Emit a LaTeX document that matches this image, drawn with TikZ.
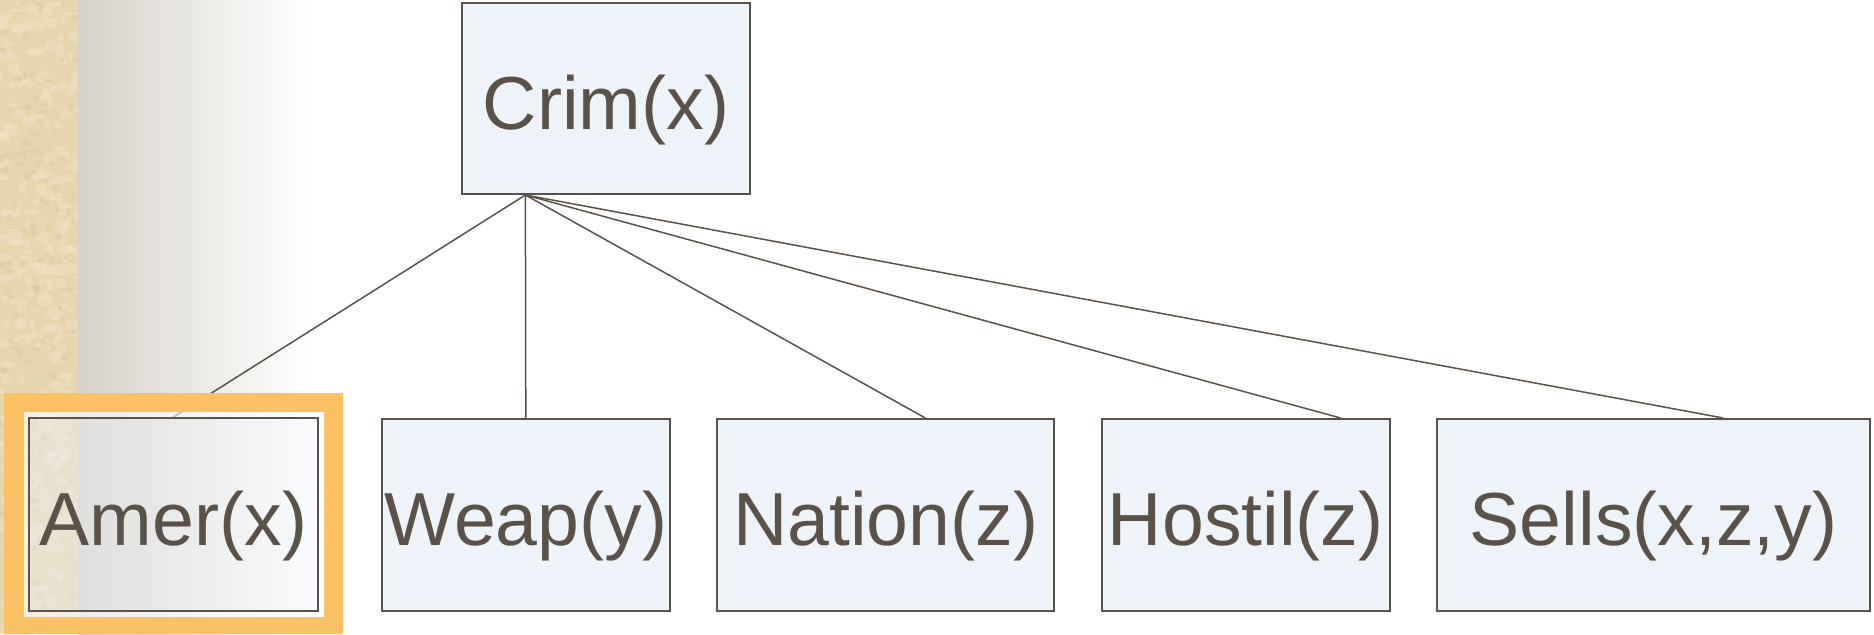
\documentclass[tikz,border=0pt]{standalone}
\usepackage{fontspec}
\setmainfont{Liberation Sans}
\usetikzlibrary{calc}
\definecolor{ink}{HTML}{5A5149}
\definecolor{boxfill}{HTML}{EEF3FA}
\definecolor{frameorange}{HTML}{F9C163}
\definecolor{parch}{HTML}{E8D5B0}
\definecolor{parchlight}{HTML}{F2E5CA}
\definecolor{parchdark}{HTML}{D9C39A}
\definecolor{fadegray}{HTML}{D6D2CA}
\pgfdeclarelayer{paper}
\pgfdeclarelayer{wires}
\pgfdeclarelayer{frame}
\pgfsetlayers{paper,wires,frame,main}
\begin{document}
\begin{tikzpicture}[x=0.5pt,y=-0.5pt,
  term/.style={draw=ink, line width=1pt, fill=boxfill, text=ink,
    font=\fontsize{37.6pt}{40pt}\selectfont, minimum height=96pt,
    inner sep=0pt, text height=30.5pt, text depth=0pt},
  link/.style={draw=ink, line width=0.75pt}]
\useasboundingbox (0,0) rectangle (1874,634);

% predicate boxes
\node[term, minimum width=144pt, minimum height=95.5pt] (crim) at (606,98.5) {Crim(x)};
\node[term, minimum width=144.5pt, minimum height=96.5pt, fill opacity=0.4, text opacity=1, draw opacity=1] (amer) at (173.5,514.5) {Amer(x)};
\node[term, minimum width=144pt] (weap) at (525.8,515) {Weap(y)};
\node[term, minimum width=168.5pt] (nation) at (885.7,515) {Nation(z)};
\node[term, minimum width=144pt] (hostil) at (1245.8,515) {Hostil(z)};
\node[term, minimum width=216.5pt] (sells) at (1653.5,515) {Sells(x,z,y)};

% parchment strip and fade
\begin{pgfonlayer}{paper}
  \fill[parch] (0,0) rectangle (78,634);
  \begin{scope}
    \clip (0,0) rectangle (78,634);
    \pgfmathsetseed{42}
    \foreach \i in {1,...,320}{
      \pgfmathsetmacro{\px}{rnd*78}
      \pgfmathsetmacro{\py}{rnd*634}
      \pgfmathsetmacro{\rx}{2+rnd*7}
      \pgfmathsetmacro{\ry}{1.5+rnd*5}
      \fill[parchlight, opacity=0.4] (\px,\py) ellipse [x radius=\rx, y radius=\ry];
    }
    \foreach \i in {1,...,220}{
      \pgfmathsetmacro{\px}{rnd*78}
      \pgfmathsetmacro{\py}{rnd*634}
      \pgfmathsetmacro{\rx}{1+rnd*4}
      \pgfmathsetmacro{\ry}{1+rnd*3}
      \fill[parchdark, opacity=0.35] (\px,\py) ellipse [x radius=\rx, y radius=\ry];
    }
  \end{scope}
  \shade[left color=fadegray, right color=white] (78,0) rectangle (310,634);
\end{pgfonlayer}

% connectors from the head to each body literal
\coordinate (hub) at ($(crim.south west)!0.222!(crim.south east)$);
\begin{pgfonlayer}{wires}
  \draw[link] (hub) -- (amer.north);
  \draw[link] (hub) -- (weap.north);
  \draw[link] (hub) -- ($(nation.north west)!0.617!(nation.north east)$);
  \draw[link] (hub) -- ($(hostil.north west)!0.827!(hostil.north east)$);
  \draw[link] (hub) -- ($(sells.north west)!0.66!(sells.north east)$);
\end{pgfonlayer}

% highlight frame around the selected literal
\begin{pgfonlayer}{frame}
  \fill[frameorange, even odd rule] (4,393) rectangle (343,634) (24,412) rectangle (324,617);
  \fill[white, opacity=0.6, even odd rule] (24,412) rectangle (324,617) (29,418) rectangle (318,611);
\end{pgfonlayer}
\end{tikzpicture}
\end{document}
